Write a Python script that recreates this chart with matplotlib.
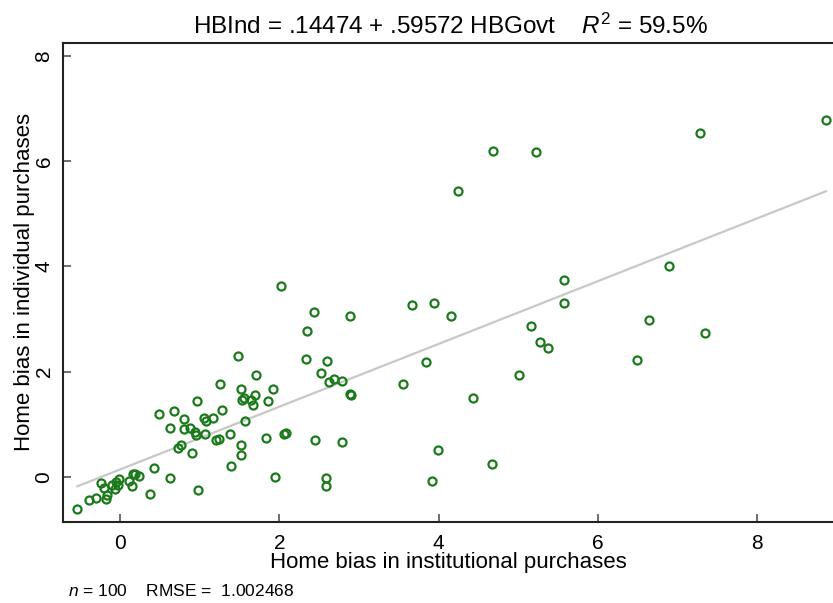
import matplotlib
matplotlib.use("Agg")
import matplotlib.pyplot as plt
import numpy as np

# Home bias in institutional purchases (x) vs individual purchases (y)
hb_govt = [8.87, 7.28, 4.69, 5.22, 4.25, 6.90, 5.58, 3.66, 3.94, 4.15,
           5.58, 6.64, 7.35, 5.16, 5.28, 5.38, 6.49, 3.84, 3.55, 5.01,
           4.43, 3.99, 4.67, 3.92,
           2.02, 2.44, 2.89, 2.35, 1.48, 2.34, 2.60, 2.52, 1.71, 1.25,
           2.62, 2.68, 2.79, 1.52, 1.92, 2.89, 2.90, 1.56, 1.53, 1.64,
           1.69, 1.67, 1.86, 1.28, 0.97, 1.05, 1.08, 1.17, 1.57, 1.07,
           1.20, 1.24, 1.38, 1.83, 2.06, 2.08, 2.45, 2.79, 1.52, 1.52,
           0.49, 0.68, 0.80, 0.63, 0.80, 0.88, 0.94, 0.95, 0.76, 0.73,
           0.90, 0.42, 0.63, 1.39, 0.98, 1.95, 2.58, 2.58, 0.37,
           -0.54, -0.39, -0.31, -0.24, -0.20, -0.17, -0.18, -0.07, -0.05,
           -0.01, 0.11, 0.15, 0.16, 0.19, 0.24, -0.03, -0.10]
hb_ind = [6.78, 6.53, 6.20, 6.17, 5.44, 4.00, 3.74, 3.26, 3.31, 3.06,
          3.31, 2.98, 2.73, 2.86, 2.57, 2.46, 2.23, 2.19, 1.77, 1.93,
          1.51, 0.52, 0.25, -0.08,
          3.63, 3.14, 3.06, 2.77, 2.29, 2.25, 2.21, 1.98, 1.93, 1.77,
          1.80, 1.86, 1.82, 1.67, 1.67, 1.57, 1.55, 1.51, 1.47, 1.47,
          1.55, 1.36, 1.44, 1.28, 1.45, 1.13, 1.07, 1.12, 1.06, 0.82,
          0.71, 0.73, 0.82, 0.75, 0.82, 0.84, 0.71, 0.66, 0.61, 0.41,
          1.20, 1.25, 1.10, 0.94, 0.92, 0.94, 0.86, 0.79, 0.60, 0.56,
          0.45, 0.17, -0.02, 0.21, -0.24, 0.00, -0.01, -0.17, -0.33,
          -0.60, -0.44, -0.39, -0.11, -0.20, -0.34, -0.41, -0.23, -0.10,
          -0.03, -0.07, -0.17, 0.05, 0.06, 0.02, -0.15, -0.15]

intercept = 0.14474
slope = 0.59572
r2_text = "59.5%"
n_obs = 100
rmse_text = "1.002468"

x_ticks = [0, 2, 4, 6, 8]
y_ticks = [0, 2, 4, 6, 8]

FONT = ["Liberation Sans", "DejaVu Sans"]
plt.rcParams["font.family"] = FONT
plt.rcParams["mathtext.fontset"] = "custom"
plt.rcParams["mathtext.rm"] = "Liberation Sans"
plt.rcParams["mathtext.it"] = "Liberation Sans:italic"

fig = plt.figure(figsize=(8.33, 6.03), dpi=100)
ax = fig.add_axes([0.076, 0.1348, 0.924, 0.7944])

x = np.array(hb_govt)
xl = np.array([x.min(), x.max()])
ax.plot(xl, intercept + slope * xl, color="#c8c8c8", lw=1.6, zorder=1)
ax.plot(hb_govt, hb_ind, linestyle="none", marker="o", markersize=5.8,
        markerfacecolor="none", markeredgecolor="#1a7a1a", markeredgewidth=1.6,
        zorder=2)

ax.set_xlim(-0.716, 8.957)
ax.set_ylim(-0.849, 8.25)
ax.set_xticks(x_ticks)
ax.set_yticks(y_ticks)
ax.tick_params(direction="in", length=6, width=1.2, color="#555555",
               labelsize=15)
ax.tick_params(axis="x", pad=9)
ax.tick_params(axis="y", pad=7)
for lab in ax.get_yticklabels():
    lab.set_rotation(90)
    lab.set_va("center")
for s in ["left", "bottom", "top"]:
    ax.spines[s].set_linewidth(1.5)
    ax.spines[s].set_color("#222222")
ax.spines["right"].set_visible(False)

ax.set_xlabel("Home bias in institutional purchases", fontsize=16, labelpad=-1)
ax.set_ylabel("Home bias in individual purchases", fontsize=16, labelpad=0)

ax.set_title(r"HBInd = .14474 + .59572 HBGovt    $\mathit{R}^{2}$ = " + r2_text,
             fontsize=17.5, pad=6, x=0.503)

fig.text(0.082, 0.007, r"$\mathit{n}$ = %d    RMSE =  %s" % (n_obs, rmse_text),
         fontsize=12.5, ha="left", va="bottom")

fig.savefig("out.png", dpi=100)
